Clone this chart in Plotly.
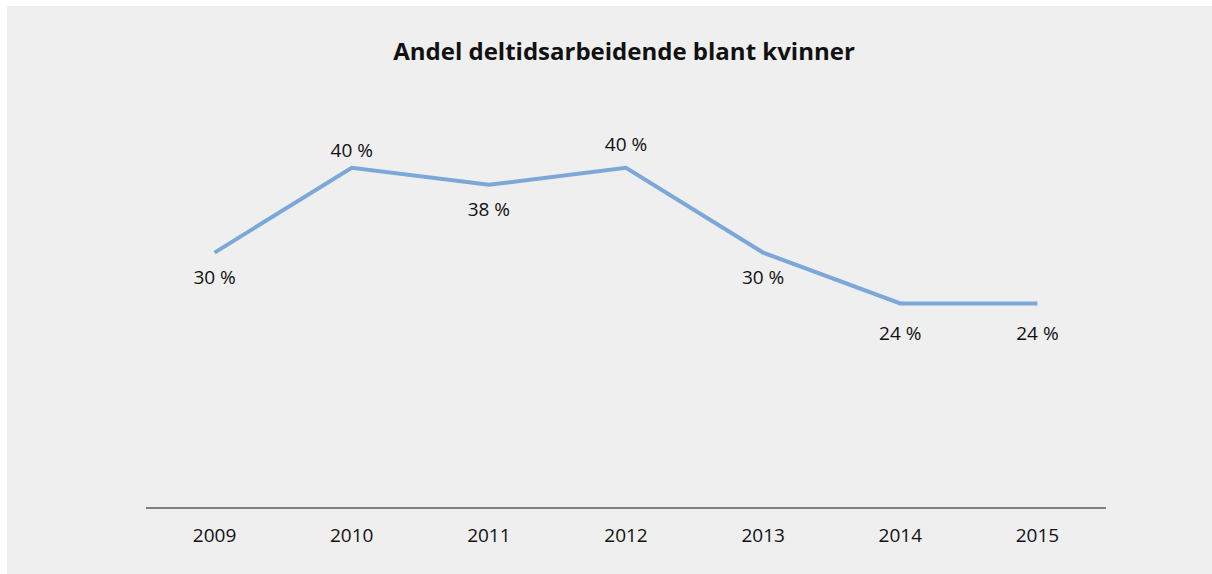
import plotly.graph_objects as go

years = ["2009", "2010", "2011", "2012", "2013", "2014", "2015"]
share = [30, 40, 38, 40, 30, 24, 24]
value_labels = ["30 %", "40 %", "38 %", "40 %", "30 %", "24 %", "24 %"]
title_text = "Andel deltidsarbeidende blant kvinner"

# where each value label sits relative to its point, and how far it is pushed
# away (size of an invisible marker that the text is offset from)
label_positions = ["bottom center", "top center", "bottom center", "top center",
                   "bottom center", "bottom center", "bottom center"]
label_gap = [26, 8, 26, 18, 26, 34, 34]

# the grey card sits 7px from the left and 6px from the top of a white page
OFF_X, OFF_Y = 7, 6
W, H = 1212 - OFF_X, 574 - OFF_Y
L, R, T, B = 139, 106, 77, 67
FONT = "Open Sans"
BG = "#efefef"

fig = go.Figure()
fig.add_trace(go.Scatter(
    x=years, y=share, mode="lines",
    line=dict(color="#7ba7d9", width=4),
    hoverinfo="skip", showlegend=False,
))
fig.add_trace(go.Scatter(
    x=years, y=share, mode="markers+text",
    marker=dict(size=label_gap, opacity=0, color=BG),
    text=value_labels, textposition=label_positions,
    textfont=dict(family=FONT, size=19, color="#111111"),
    hoverinfo="skip", showlegend=False, cliponaxis=False,
))

fig.update_layout(
    width=W, height=H,
    margin=dict(l=L, r=R, t=T, b=B),
    paper_bgcolor=BG,
    plot_bgcolor=BG,
    title=dict(
        text=f"<b>{title_text}</b>",
        x=617 / W, xanchor="center",
        y=1 - 46 / H, yanchor="middle",
        font=dict(family=FONT, size=24, color="#111111"),
    ),
    xaxis=dict(
        type="category", range=[-0.5, 6.5],
        showline=True, linecolor="#808080", linewidth=1.5,
        showgrid=False, zeroline=False,
        ticks="outside", ticklen=10, tickcolor="rgba(0,0,0,0)",
        tickfont=dict(family=FONT, size=19, color="#111111"),
    ),
    yaxis=dict(
        range=[0, 50], visible=False, showgrid=False, zeroline=False,
    ),
)

place_card = (
    "var d = document.getElementById('{plot_id}');"
    "document.body.style.margin = '0';"
    "document.body.style.background = 'white';"
    "d.style.position = 'absolute';"
    f"d.style.left = '{OFF_X}px';"
    f"d.style.top = '{OFF_Y}px';"
)

fig.write_html("out.html", post_script=place_card)
